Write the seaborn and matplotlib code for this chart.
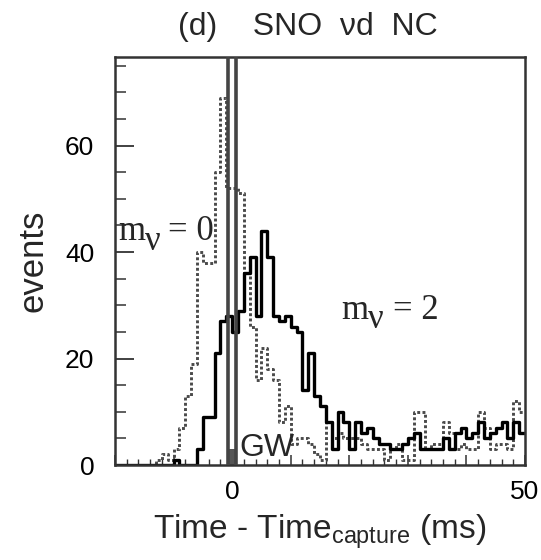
import numpy as np
import pandas as pd
import matplotlib
matplotlib.use("Agg")
import matplotlib.pyplot as plt
import seaborn as sns

# ---- data (1 ms bins from -20 to 50 ms) ----
bin_edges = list(range(-20, 51))
# m_nu = 0 (dotted)
events_m0 = [0, 0, 0, 0, 0, 0, 0, 1, 2, 1,      # -20 .. -11
             3, 7, 13, 19, 40, 38, 38, 55, 69, 52,  # -10 .. -1
             52, 51, 36, 26, 16, 22, 18, 16, 8, 11,  # 0 .. 9
             4, 5, 5, 4, 2, 1, 8, 5, 6, 5,          # 10 .. 19
             5, 5, 4, 3, 3, 3, 1, 3, 4, 1,          # 20 .. 29
             1, 10, 10, 3, 4, 4, 8, 6, 3, 4,        # 30 .. 39
             3, 3, 10, 7, 3, 4, 4, 3, 12, 10]       # 40 .. 49
# m_nu = 2 (solid)
events_m2 = [0, 0, 0, 0, 0, 0, 0, 0, 0, 0,      # -20 .. -11
             1, 0, 0, 0, 3, 9, 9, 21, 27, 28,     # -10 .. -1
             25, 29, 36, 39, 28, 44, 39, 28, 27, 28,  # 0 .. 9
             26, 25, 14, 21, 13, 11, 8, 3, 10, 8,   # 10 .. 19
             3, 8, 6, 7, 5, 4, 4, 3, 3, 4,          # 20 .. 29
             5, 6, 3, 3, 3, 3, 5, 3, 6, 7,          # 30 .. 39
             5, 6, 8, 5, 6, 7, 8, 5, 8, 6]          # 40 .. 49
gw_lines = [-0.75, 0.7]
gw_height = 3

title = "(d)    SNO  \u03bdd  NC"
xlabel = "Time - Time$_\\mathregular{capture}$ (ms)"
ylabel = "events"

centers = [e + 0.5 for e in bin_edges[:-1]]
df = pd.DataFrame({"time": centers + centers,
                   "events": events_m0 + events_m2,
                   "mass": ["0"] * len(centers) + ["2"] * len(centers)})

sns.set_style("ticks")
plt.rcParams["font.family"] = ["Liberation Sans", "DejaVu Sans"]
plt.rcParams["mathtext.fontset"] = "custom"

fig = plt.figure(figsize=(5.41, 5.60), dpi=100)
ax = fig.add_axes([0.2126, 0.1696, 0.7578, 0.7284])

sns.histplot(data=df[df.mass == "0"], x="time", weights="events", bins=bin_edges,
             element="step", fill=False, color="#4a4a4a", linewidth=2.1,
             linestyle=(0, (1, 0.8)), ax=ax, legend=False)
ax.fill_between(gw_lines, [0, 0], [gw_height, gw_height], color="#555555",
                linewidth=0, zorder=2)
for x in gw_lines:
    ax.axvline(x, color="#444444", linewidth=2.6, zorder=3)
sns.histplot(data=df[df.mass == "2"], x="time", weights="events", bins=bin_edges,
             element="step", fill=False, color="black", linewidth=2.4,
             ax=ax, legend=False)

ax.set_xlim(-20, 50)
ax.set_ylim(0, 76.6)

ax.set_xticks(np.arange(-20, 51, 10))
ax.set_xticklabels(["" if t not in (0, 50) else str(t) for t in range(-20, 51, 10)])
ax.set_xticks(np.arange(-20, 51, 2), minor=True)
ax.set_yticks([0, 20, 40, 60])
ax.set_yticks(np.arange(0, 77, 5), minor=True)

ax.tick_params(axis="both", which="both", direction="in", top=False, right=False,
               colors="#333333", labelcolor="black")
ax.tick_params(axis="y", which="major", length=14, width=1.3, labelsize=19, pad=15)
ax.tick_params(axis="y", which="minor", length=8, width=1.1)
ax.tick_params(axis="x", which="major", length=7, width=1.1, labelsize=19, pad=11)
ax.tick_params(axis="x", which="minor", length=4, width=1.0)

for sp in ax.spines.values():
    sp.set_visible(True)
    sp.set_linewidth(1.8)
    sp.set_color("#333333")

ax.set_xlabel(xlabel, fontsize=24, labelpad=6)
ax.set_ylabel(ylabel, fontsize=25, labelpad=11)

fig.text(308 / 541, 1 - 27 / 560, title, ha="center", va="center", fontsize=23)

serif = ["Liberation Serif", "DejaVu Serif"]
tsize = 25
# m_nu = 0 label
ax.text(-19.5, 42.2, "m", family=serif, fontsize=tsize, va="baseline", ha="left", zorder=5)
ax.text(-14.9, 40.4, "\u03bd", family=serif, fontsize=tsize, va="baseline", ha="left", zorder=5)
ax.text(-10.9, 42.2, "= 0", family=serif, fontsize=tsize, va="baseline", ha="left", zorder=5)
# m_nu = 2 label
ax.text(18.7, 27.5, "m", family=serif, fontsize=tsize, va="baseline", ha="left", zorder=5)
ax.text(23.2, 25.7, "\u03bd", family=serif, fontsize=tsize, va="baseline", ha="left", zorder=5)
ax.text(27.4, 27.5, "= 2", family=serif, fontsize=tsize, va="baseline", ha="left", zorder=5)

ax.text(1.3, 1.7, "GW", fontsize=23, va="baseline", ha="left", zorder=5)

fig.savefig("out.png", dpi=100)
